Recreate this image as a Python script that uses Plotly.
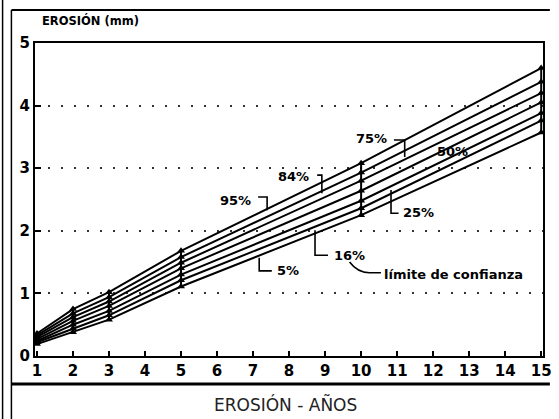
import plotly.graph_objects as go

# ---- data ----
years = [1, 2, 3, 5, 10, 15]
p95 = [0.36, 0.75, 1.02, 1.68, 3.08, 4.60]
p84 = [0.33, 0.68, 0.94, 1.58, 2.93, 4.38]
p75 = [0.30, 0.62, 0.87, 1.49, 2.80, 4.20]
p50 = [0.27, 0.56, 0.80, 1.40, 2.64, 4.05]
p25 = [0.24, 0.50, 0.72, 1.30, 2.48, 3.88]
p16 = [0.22, 0.44, 0.65, 1.21, 2.36, 3.76]
p05 = [0.19, 0.38, 0.58, 1.11, 2.25, 3.57]
series = [p95, p84, p75, p50, p25, p16, p05]

x_ticks = list(range(1, 16))
y_ticks = [0, 1, 2, 3, 4, 5]

title_y = "EROSIÓN (mm)"
title_x = "EROSIÓN - AÑOS"

# ---- geometry helpers (pixel -> paper) ----
W, H = 559, 419
ML, MR, MT, MB = 35, 7, 43, 63
PW, PH = W - ML - MR, H - MT - MB


def px(xp):
    return (xp - ML) / PW


def py(yp):
    return (H - MB - yp) / PH


BOLD = "DejaVu Sans"

fig = go.Figure()

# vertical bars joining the marker stacks at each year
vx, vy = [], []
for i, x in enumerate(years):
    vals = [s[i] for s in series]
    vx += [x, x, None]
    vy += [min(vals), max(vals), None]
fig.add_trace(go.Scatter(x=vx, y=vy, mode="lines",
                         line=dict(color="black", width=2), hoverinfo="skip",
                         showlegend=False))

for s in series:
    fig.add_trace(go.Scatter(
        x=years, y=s, mode="lines+markers",
        line=dict(color="black", width=2),
        marker=dict(symbol="triangle-up", size=7, color="black"),
        showlegend=False))

# ---- bracket labels (data coords) ----
brackets = [
    "M 7.14,2.54 L 7.39,2.54 L 7.39,2.33",
    "M 8.78,2.89 L 8.91,2.89 L 8.91,2.60",
    "M 10.91,3.45 L 11.21,3.45 L 11.21,3.18",
    "M 10.83,2.65 L 10.83,2.28 L 11.04,2.28",
    "M 8.72,2.01 L 8.72,1.61 L 9.08,1.61",
    "M 7.17,1.57 L 7.17,1.36 L 7.52,1.36",
    "M 9.68,1.50 Q 9.9,1.33 10.23,1.33 L 10.55,1.33",
]
shapes = [dict(type="path", path=p, xref="x", yref="y",
               line=dict(color="black", width=1.6)) for p in brackets]

# outer frame
shapes += [
    dict(type="line", xref="paper", yref="paper", x0=px(2), x1=px(2),
         y0=py(419), y1=py(0), line=dict(color="black", width=1.5)),
    dict(type="line", xref="paper", yref="paper", x0=px(11), x1=px(11),
         y0=py(419), y1=py(10), line=dict(color="black", width=1.5)),
    dict(type="line", xref="paper", yref="paper", x0=px(11), x1=px(559),
         y0=py(10), y1=py(10), line=dict(color="black", width=2)),
    dict(type="line", xref="paper", yref="paper", x0=px(11), x1=px(559),
         y0=py(384), y1=py(384), line=dict(color="black", width=3)),
]

labels = [
    ("95%", 7.00, 2.49, "right"),
    ("84%", 8.61, 2.86, "right"),
    ("75%", 10.77, 3.48, "right"),
    ("50%", 12.54, 3.26, "center"),
    ("25%", 11.10, 2.29, "left"),
    ("16%", 9.20, 1.61, "left"),
    ("5%", 7.60, 1.36, "left"),
]
annotations = [dict(x=x, y=y, text=t, showarrow=False, xanchor=a,
                    yanchor="middle",
                    font=dict(family=BOLD, size=13, color="black", weight="bold"))
               for t, x, y, a in labels]
annotations.append(dict(x=10.58, y=1.30, text="límite de confianza",
                        showarrow=False, xanchor="left", yanchor="middle",
                        font=dict(family=BOLD, size=13, color="black",
                                  weight="bold")))
annotations.append(dict(x=px(40), y=py(20), xref="paper", yref="paper",
                        text=title_y, showarrow=False, xanchor="left",
                        yanchor="middle",
                        font=dict(family=BOLD, size=11.5, color="black",
                                  weight="bold")))
annotations.append(dict(x=px(290), y=py(404), xref="paper", yref="paper",
                        text=title_x, showarrow=False, xanchor="center",
                        yanchor="middle",
                        font=dict(family="DejaVu Sans", size=17,
                                  color="#222")))

fig.update_layout(
    width=W, height=H,
    margin=dict(l=ML, r=MR, t=MT, b=MB),
    paper_bgcolor="white", plot_bgcolor="white",
    shapes=shapes, annotations=annotations,
    xaxis=dict(range=[0.945, 15.05], tickvals=x_ticks,
               ticktext=[str(v) for v in x_ticks],
               showgrid=False, zeroline=False,
               showline=True, linecolor="black", linewidth=2, mirror=True,
               ticks="inside", ticklen=5, tickwidth=1.5, tickcolor="black",
               tickfont=dict(family=BOLD, size=15, color="black",
                             weight="bold")),
    yaxis=dict(range=[0, 5], tickvals=y_ticks,
               showgrid=True, gridcolor="#333", gridwidth=1.5,
               griddash="2px,11px", zeroline=False,
               showline=True, linecolor="black", linewidth=2, mirror=True,
               ticks="inside", ticklen=6, tickwidth=1.5, tickcolor="black",
               tickfont=dict(family=BOLD, size=15, color="black",
                             weight="bold")),
)

fig.write_html("out.html", config={"displayModeBar": False},
               post_script="document.body.style.margin='0';"
                           "document.body.style.overflow='hidden';")
